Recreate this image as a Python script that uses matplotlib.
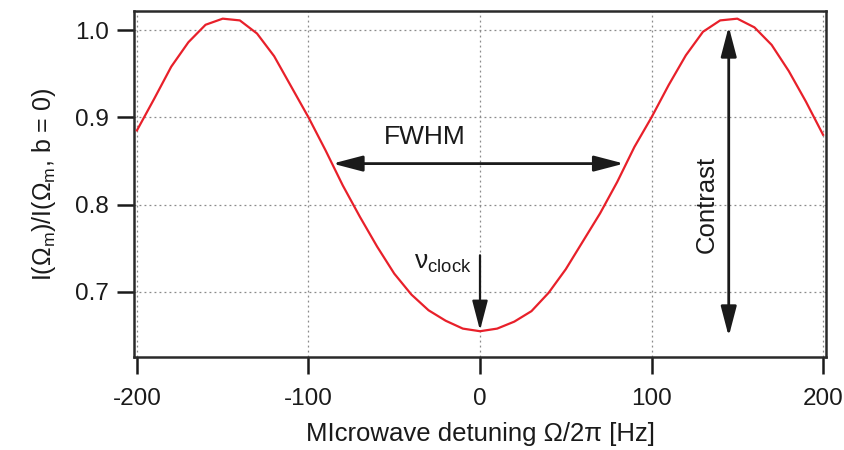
import matplotlib
matplotlib.use('Agg')
import matplotlib.pyplot as plt

# detuning in Hz and normalised signal
detuning = [-200, -190, -180, -170, -160, -150, -140, -130, -120, -110, -100,
            -90, -80, -70, -60, -50, -40, -30, -20, -10, 0,
            10, 20, 30, 40, 50, 60, 70, 80, 90, 100,
            110, 120, 130, 140, 150, 160, 170, 180, 190, 200]
signal = [0.885, 0.921, 0.958, 0.986, 1.006, 1.013, 1.011, 0.996, 0.970, 0.935, 0.900,
          0.862, 0.822, 0.786, 0.752, 0.721, 0.697, 0.679, 0.667, 0.658, 0.655,
          0.658, 0.666, 0.678, 0.699, 0.726, 0.758, 0.790, 0.826, 0.866, 0.900,
          0.937, 0.971, 0.998, 1.011, 1.013, 1.003, 0.983, 0.953, 0.918, 0.880]

x_ticks = [-200, -100, 0, 100, 200]
y_ticks = [0.7, 0.8, 0.9, 1.0]

# annotation anchors (data units)
fwhm_y = 0.847
fwhm_left, fwhm_right = -86, 84
clock_x, clock_top, clock_bottom = 0, 0.742, 0.656
contrast_x, contrast_top, contrast_bottom = 145, 1.004, 0.649

plt.rcParams['font.family'] = ['Liberation Sans', 'DejaVu Sans']
plt.rcParams['mathtext.fontset'] = 'custom'
plt.rcParams['mathtext.rm'] = 'Liberation Sans'
plt.rcParams['mathtext.it'] = 'Liberation Sans:italic'

text_col = '#1a1a1a'
fig = plt.figure(figsize=(8.45, 4.5), dpi=100)
ax = fig.add_axes([0.1586, 0.2067, 0.8189, 0.7689])

ax.plot(detuning, signal, color='#e8202a', lw=1.6, zorder=3)

ax.set_xlim(-201.7, 201.7)
ax.set_ylim(0.6255, 1.0218)
ax.set_xticks(x_ticks)
ax.set_xticklabels([str(t) for t in x_ticks])
ax.set_yticks(y_ticks)
ax.set_yticklabels(['%.1f' % t for t in y_ticks])

ax.grid(True, color='#8a8a8a', lw=0.9, linestyle=(0, (1.5, 2.5)))
ax.tick_params(direction='out', length=12, width=1.8, labelsize=17.5,
               colors=text_col)
ax.tick_params(axis='x', pad=10)
ax.tick_params(axis='y', pad=6)
for s in ax.spines.values():
    s.set_linewidth(1.8)
    s.set_color('#2a2a2a')

ax.set_xlabel('MIcrowave detuning Ω/2π [Hz]', fontsize=18.5, color=text_col, labelpad=9)
ax.set_ylabel('I(Ω$_{\\mathrm{m}}$)/I(Ω$_{\\mathrm{m}}$, b = 0)', fontsize=18,
              color=text_col, labelpad=12)

arrow_style = dict(arrowstyle='<|-|>,head_length=1.3,head_width=0.34',
                   mutation_scale=14, lw=2, color='#1a1a1a',
                   shrinkA=0, shrinkB=0)
ax.annotate('', xy=(fwhm_left, fwhm_y), xytext=(fwhm_right, fwhm_y),
            arrowprops=arrow_style, zorder=4)
ax.text(-32, 0.877, 'FWHM', fontsize=19, color=text_col, ha='center', va='center')

ax.annotate('', xy=(clock_x, clock_bottom), xytext=(clock_x, clock_top),
            arrowprops=dict(arrowstyle='-|>,head_length=1.3,head_width=0.34',
                            mutation_scale=14, lw=1.6, color='#1a1a1a',
                            shrinkA=0, shrinkB=0), zorder=4)
ax.text(-21.5, 0.733, 'ν$_{\\mathrm{clock}}$', fontsize=19, color=text_col,
        ha='center', va='center')

ax.annotate('', xy=(contrast_x, contrast_top), xytext=(contrast_x, contrast_bottom),
            arrowprops=arrow_style, zorder=4)
ax.text(132, 0.8, 'Contrast', fontsize=18.5, color=text_col, ha='center',
        va='center', rotation=90)

fig.savefig('out.png', dpi=100)
